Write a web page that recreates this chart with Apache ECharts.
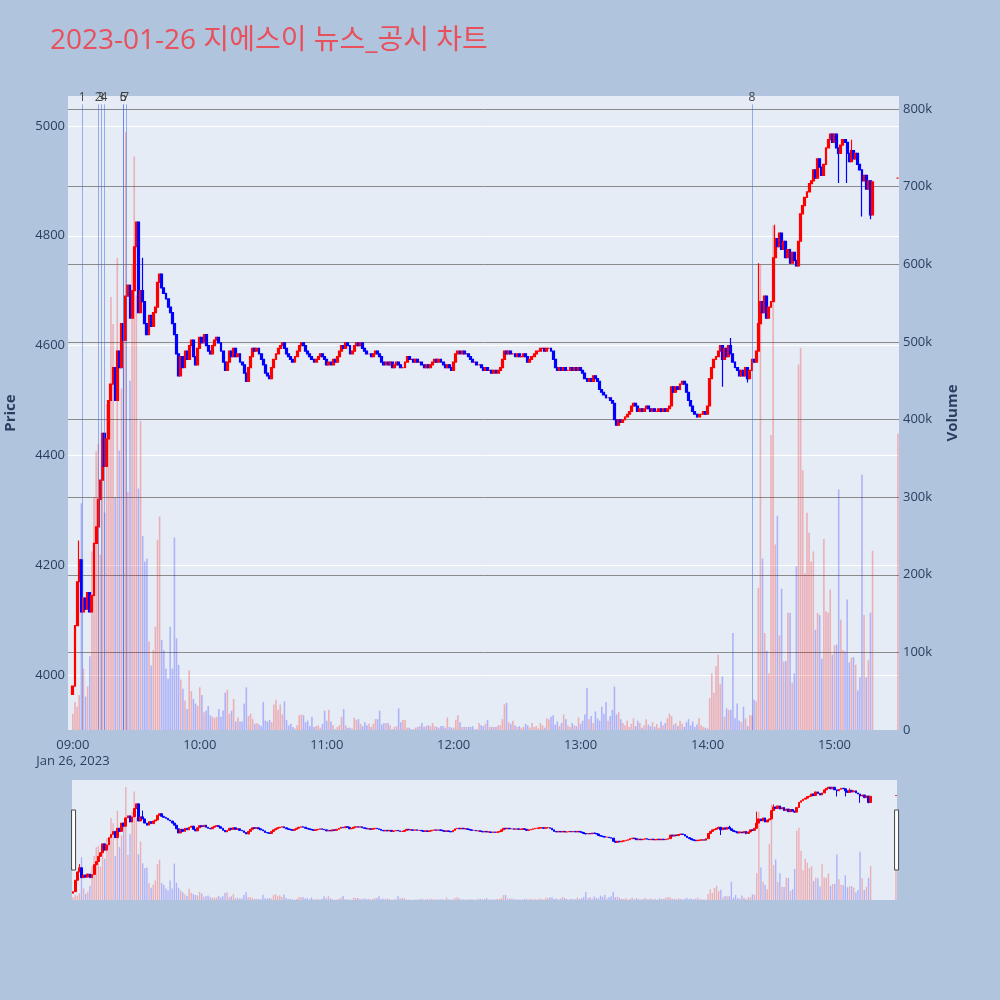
<!DOCTYPE html>
<html>
<head>
<meta charset="utf-8">
<title>지에스이 뉴스_공시 차트</title>
<script src="https://cdn.jsdelivr.net/npm/echarts@6/dist/echarts.min.js"></script>
<style>
  html, body { margin: 0; padding: 0; background: #b0c4de; }
  #chart { width: 1000px; height: 1000px; }
</style>
</head>
<body>
<div id="chart"></div>
<script>
// 1분봉 종가 (09:00 부터), 시가는 직전 종가
const firstOpen = 3965;
const closes = [
  3980, 4090, 4170, 4210, 4115, 4140, 4120, 4150, 4115, 4145,
  4240, 4270, 4320, 4355, 4440, 4380, 4430, 4500, 4530, 4560,
  4500, 4590, 4560, 4640, 4610, 4690, 4710, 4650, 4700, 4780,
  4825, 4660, 4700, 4680, 4640, 4620, 4655, 4635, 4660, 4670,
  4715, 4730, 4705, 4695, 4685, 4670, 4660, 4640, 4620, 4585,
  4545, 4580, 4560, 4590, 4575, 4600, 4610, 4580, 4565, 4595,
  4615, 4605, 4620, 4600, 4590, 4585, 4600, 4610, 4615, 4605,
  4590, 4570, 4555, 4570, 4590, 4580, 4595, 4580, 4585, 4570,
  4565, 4550, 4535, 4560, 4580, 4595, 4590, 4595, 4585, 4575,
  4565, 4550, 4545, 4540, 4560, 4575, 4585, 4595, 4600, 4605,
  4595, 4585, 4580, 4575, 4570, 4580, 4590, 4600, 4605, 4600,
  4590, 4585, 4580, 4575, 4570, 4575, 4580, 4585, 4580, 4575,
  4565, 4570, 4565, 4575, 4570, 4580, 4590, 4600, 4595, 4605,
  4600, 4585, 4590, 4600, 4605, 4600, 4605, 4595, 4590, 4585,
  4585, 4580, 4585, 4590, 4585, 4580, 4570, 4565, 4570, 4565,
  4570, 4560, 4565, 4570, 4565, 4560, 4560, 4570, 4580, 4575,
  4575, 4570, 4575, 4570, 4570, 4565, 4560, 4565, 4560, 4565,
  4570, 4575, 4570, 4575, 4570, 4565, 4560, 4565, 4560, 4555,
  4570, 4585, 4590, 4585, 4590, 4585, 4585, 4580, 4575, 4570,
  4570, 4565, 4565, 4560, 4555, 4560, 4555, 4555, 4550, 4555,
  4550, 4555, 4560, 4575, 4590, 4585, 4590, 4585, 4585, 4580,
  4585, 4580, 4580, 4585, 4580, 4570, 4575, 4580, 4585, 4590,
  4590, 4595, 4595, 4590, 4595, 4595, 4590, 4575, 4560, 4555,
  4560, 4555, 4560, 4555, 4555, 4560, 4555, 4560, 4555, 4560,
  4555, 4550, 4540, 4535, 4540, 4535, 4545, 4540, 4535, 4520,
  4515, 4510, 4505, 4505, 4500, 4495, 4465, 4455, 4465, 4460,
  4465, 4470, 4475, 4480, 4490, 4495, 4490, 4480, 4485, 4480,
  4485, 4490, 4485, 4480, 4485, 4480, 4480, 4485, 4480, 4485,
  4480, 4485, 4490, 4525, 4515, 4525, 4520, 4530, 4535, 4530,
  4515, 4500, 4490, 4480, 4475, 4470, 4475, 4475, 4480, 4475,
  4490, 4540, 4560, 4575, 4580, 4590, 4600, 4575, 4595, 4580,
  4600, 4585, 4570, 4560, 4555, 4545, 4555, 4545, 4560, 4540,
  4555, 4575, 4570, 4590, 4640, 4680, 4660, 4690, 4650, 4670,
  4680, 4760, 4795, 4780, 4805, 4775, 4790, 4760, 4775, 4750,
  4770, 4755, 4745, 4790, 4840, 4855, 4870, 4880, 4895, 4900,
  4920, 4905, 4940, 4925, 4910, 4930, 4960, 4975, 4985, 4970,
  4985, 4960, 4950, 4965, 4975, 4970, 4950, 4935, 4955, 4940,
  4950, 4930, 4920, 4900, 4910, 4885, 4900, 4838, 4898
];

// 꼬리가 몸통 밖으로 나온 분봉: 분 -> [저가, 고가]
const wicks = {
  3: [null, 4245], 33: [null, 4760], 307: [4525, null], 311: [null, 4614],
  319: [4533, null], 324: [null, 4750], 332: [null, 4820], 362: [4896, null],
  366: [4896, null], 368: [null, 4975], 373: [4835, null], 377: [4830, null]
};

// 분당 거래량 (천 주)
const volumesK = [
  21, 36, 30, 45, 292, 79, 43, 56, 95, 230,
  300, 359, 368, 226, 331, 280, 420, 380, 558, 523,
  300, 608, 360, 440, 520, 770, 307, 450, 600, 739,
  560, 311, 398, 250, 217, 221, 114, 83, 103, 133,
  245, 275, 116, 103, 79, 66, 133, 79, 248, 118,
  84, 65, 53, 38, 27, 77, 50, 40, 34, 31,
  55, 45, 23, 25, 31, 19, 17, 16, 17, 27,
  17, 25, 48, 52, 21, 25, 40, 11, 16, 11,
  11, 34, 55, 18, 21, 14, 8, 9, 7, 5,
  36, 12, 11, 13, 10, 33, 39, 26, 33, 20,
  37, 13, 6, 8, 4, 2, 6, 19, 20, 19,
  10, 12, 5, 17, 4, 5, 6, 3, 8, 25,
  12, 26, 11, 6, 1, 4, 6, 17, 27, 6,
  3, 3, 2, 16, 13, 14, 8, 5, 10, 6,
  8, 4, 8, 14, 14, 25, 7, 9, 9, 9,
  6, 1, 4, 5, 28, 10, 13, 13, 3, 3,
  1, 1, 3, 4, 5, 9, 4, 5, 6, 5,
  9, 5, 4, 3, 5, 5, 3, 16, 4, 3,
  3, 13, 19, 10, 4, 4, 4, 4, 4, 5,
  1, 1, 9, 6, 5, 8, 13, 4, 4, 4,
  4, 6, 6, 14, 33, 35, 10, 8, 12, 6,
  4, 5, 3, 4, 8, 6, 3, 9, 4, 5,
  2, 9, 6, 3, 15, 14, 17, 19, 7, 11,
  5, 9, 20, 14, 6, 4, 9, 6, 5, 16,
  8, 12, 20, 54, 14, 18, 9, 24, 15, 12,
  30, 21, 36, 12, 18, 26, 56, 20, 23, 14,
  9, 6, 12, 4, 8, 15, 5, 12, 9, 3,
  6, 14, 7, 5, 10, 4, 8, 3, 11, 6,
  9, 15, 21, 18, 7, 9, 5, 12, 8, 4,
  10, 14, 6, 11, 4, 7, 15, 6, 4, 3,
  2, 41, 73, 48, 82, 97, 59, 69, 17, 28,
  26, 26, 125, 15, 34, 12, 10, 30, 15, 5,
  19, 19, 39, 37, 183, 600, 221, 125, 102, 73,
  380, 650, 239, 276, 122, 182, 88, 89, 151, 151,
  61, 73, 211, 471, 492, 335, 202, 280, 254, 217,
  230, 129, 151, 148, 92, 246, 153, 151, 181, 97,
  109, 110, 310, 142, 103, 101, 168, 87, 93, 94,
  84, 51, 68, 329, 148, 68, 90, 151, 231
];

// 15:30 종가 단일가
const closingMinute = 390;
const closingPrice = 4905;
const closingVolumeK = 382;

// 뉴스/공시 시각
const newsTimes = ['09:04:26', '09:12:00', '09:13:18', '09:14:42', '09:23:48', '09:23:48', '09:25:00', '14:21:00'];

const priceTicks = [4000, 4200, 4400, 4600, 4800, 5000];
const volumeTicks = [0, 100000, 200000, 300000, 400000, 500000, 600000, 700000, 800000];
const hourTicks = [0, 60, 120, 180, 240, 300, 360];
const sessionStart = '09:00';
const dateLabel = 'Jan 26, 2023';

const UP = '#ff0000', DOWN = '#0000ff';
const UP_BAR = 'rgba(255,0,0,0.26)', DOWN_BAR = 'rgba(0,0,255,0.24)';
const TEXT = '#2a3f5f';
const FONT = '"Open Sans", "Noto Sans CJK KR", sans-serif';

function toMinute(t) {
  const p = t.split(':').map(Number);
  const s = sessionStart.split(':').map(Number);
  return (p[0] - s[0]) * 60 + (p[1] - s[1]) + (p[2] || 0) / 60;
}

function minuteLabel(m) {
  const s = sessionStart.split(':').map(Number);
  const total = s[0] * 60 + s[1] + m;
  const hh = String(Math.floor(total / 60)).padStart(2, '0');
  const mm = String(total % 60).padStart(2, '0');
  return hh + ':' + mm;
}

// 캔들/거래량 데이터 만들기
let candles = [];
let vols = [];
let prev = firstOpen;
const n = Math.min(closes.length, volumesK.length);
for (let m = 0; m < n; m++) {
  const o = prev, c = closes[m];
  let lo = Math.min(o, c), hi = Math.max(o, c);
  if (wicks[m]) {
    if (wicks[m][0] != null) lo = wicks[m][0];
    if (wicks[m][1] != null) hi = wicks[m][1];
  }
  candles.push([m, o, c, lo, hi]);
  vols.push({ value: [m, volumesK[m] * 1000], itemStyle: { color: c >= o ? UP_BAR : DOWN_BAR } });
  prev = c;
}
candles.push([closingMinute, closingPrice, closingPrice, closingPrice, closingPrice]);
vols.push({ value: [closingMinute, closingVolumeK * 1000], itemStyle: { color: UP_BAR } });

// 가격축: 100 간격 틱 중 200 단위만 흰 격자
const priceMin = 3900, priceMax = 5054.5, priceStep = 100;
let priceLineColors = [];
for (let v = priceMin; v <= priceMax; v += priceStep) {
  priceLineColors.push(priceTicks.includes(v) ? '#ffffff' : 'rgba(0,0,0,0)');
}
priceLineColors.push('rgba(0,0,0,0)');

const volMax = 816800;

let chart = echarts.init(document.getElementById('chart'));
let option = {
  animation: false,
  backgroundColor: '#b0c4de',
  textStyle: { fontFamily: FONT },
  // 제목
  title: {
    text: '2023-01-26 지에스이 뉴스_공시 차트',
    left: 45,
    top: 22,
    textStyle: { color: '#e8505b', fontSize: 28, fontWeight: 'normal', fontFamily: FONT }
  },
  grid: [
    { left: 68, right: 101, top: 96, bottom: 270, show: true, backgroundColor: '#e5ecf6', borderWidth: 0, containLabel: false, outerBoundsMode: 'none' },
    { left: 72, right: 103, top: 780, height: 120, show: true, backgroundColor: '#e5ecf6', borderWidth: 0, containLabel: false, outerBoundsMode: 'none' }
  ],
  xAxis: [
    {
      type: 'value', gridIndex: 0, min: -2.3, max: 390.5,
      axisLine: { show: false }, axisTick: { show: false }, splitLine: { show: false },
      axisLabel: {
        customValues: hourTicks,
        color: TEXT, fontSize: 13, lineHeight: 16, margin: 7,
        formatter: function (v) {
          return v === 0 ? minuteLabel(v) + '\n' + dateLabel : minuteLabel(v);
        }
      }
    },
    { type: 'value', gridIndex: 1, min: -0.5, max: 390.5, show: false }
  ],
  yAxis: [
    {
      type: 'value', gridIndex: 0, position: 'left', min: priceMin, max: priceMax, interval: priceStep,
      name: 'Price', nameLocation: 'middle', nameGap: 50,
      nameTextStyle: { color: TEXT, fontSize: 15, fontWeight: 'bold' },
      axisLine: { show: false }, axisTick: { show: false },
      axisLabel: {
        color: TEXT, fontSize: 13, margin: 3,
        formatter: function (v) { return priceTicks.includes(Math.round(v)) && Math.abs(v - Math.round(v)) < 1e-6 ? String(Math.round(v)) : ''; }
      },
      splitLine: { show: true, lineStyle: { color: priceLineColors, width: 1 } }
    },
    {
      type: 'value', gridIndex: 0, position: 'right', min: 0, max: volMax, interval: 100000,
      name: 'Volume', nameLocation: 'middle', nameGap: 46,
      nameTextStyle: { color: TEXT, fontSize: 15, fontWeight: 'bold' },
      axisLine: { show: false }, axisTick: { show: false },
      axisLabel: {
        color: TEXT, fontSize: 13, margin: 4,
        formatter: function (v) {
          if (!volumeTicks.includes(v)) return '';
          return v === 0 ? '0' : (v / 1000) + 'k';
        }
      },
      splitLine: { show: true, showMinLine: false, showMaxLine: false, lineStyle: { color: '#8a8a8a', width: 1 } }
    },
    { type: 'value', gridIndex: 1, min: priceMin, max: priceMax, show: false },
    { type: 'value', gridIndex: 1, min: 0, max: volMax, show: false }
  ],
  // 레인지 슬라이더
  dataZoom: [{
    type: 'slider', xAxisIndex: 0, filterMode: 'none', start: 0, end: 100,
    left: 72, right: 103, top: 780, height: 120,
    showDataShadow: false, showDetail: false, brushSelect: false, moveHandleSize: 0,
    backgroundColor: 'rgba(0,0,0,0)', borderColor: 'rgba(0,0,0,0)', fillerColor: 'rgba(0,0,0,0)',
    handleIcon: 'path://M0,0H4V60H0Z', handleSize: '50%',
    handleStyle: { color: '#ffffff', borderColor: '#444444', borderWidth: 1 },
    emphasis: { handleStyle: { color: '#ffffff', borderColor: '#444444', borderWidth: 1 } },
    dataBackground: { lineStyle: { opacity: 0 }, areaStyle: { opacity: 0 } },
    selectedDataBackground: { lineStyle: { opacity: 0 }, areaStyle: { opacity: 0 } }
  }],
  series: [
    {
      name: 'Volume', type: 'bar', xAxisIndex: 0, yAxisIndex: 1, data: vols,
      barWidth: 1.6, z: 2, silent: true,
      markLine: {
        silent: true, symbol: ['none', 'none'], animation: false,
        lineStyle: { color: 'rgba(65,105,225,0.5)', width: 1, type: 'solid' },
        label: { show: true, position: 'end', formatter: '{b}', color: '#444', fontSize: 12, distance: 1 },
        emphasis: { disabled: true },
        data: newsTimes.map(function (t, i) {
          return [{ coord: [toMinute(t), 0], name: String(i + 1) }, { coord: [toMinute(t), 806000] }];
        })
      }
    },
    {
      name: 'Price', type: 'candlestick', xAxisIndex: 0, yAxisIndex: 0, data: candles,
      barWidth: 2.4, z: 3, silent: true,
      itemStyle: { color: UP, color0: DOWN, borderColor: UP, borderColor0: DOWN, borderWidth: 1.2 }
    },
    {
      type: 'bar', xAxisIndex: 1, yAxisIndex: 3, data: vols,
      barWidth: 1.4, z: 2, silent: true
    },
    {
      type: 'candlestick', xAxisIndex: 1, yAxisIndex: 2, data: candles,
      barWidth: 2.2, z: 3, silent: true,
      itemStyle: { color: UP, color0: DOWN, borderColor: UP, borderColor0: DOWN, borderWidth: 1 }
    }
  ]
};
chart.setOption(option);
</script>
</body>
</html>
